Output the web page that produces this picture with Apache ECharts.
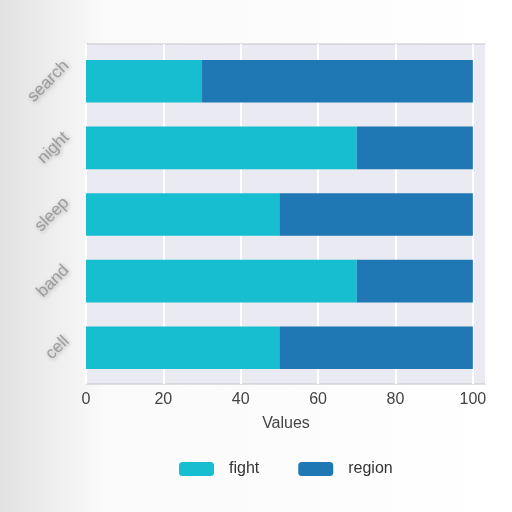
<!DOCTYPE html>
<html><head><meta charset="utf-8">
<script src="https://cdn.jsdelivr.net/npm/echarts@6/dist/echarts.min.js"></script>
<style>html,body{margin:0;padding:0;background:#fff}#c{width:512px;height:512px}</style>
</head><body><div id="c"></div>
<script>
const categories = ['cell', 'band', 'sleep', 'night', 'search'];
const fight = [50, 70, 50, 70, 30];
const region = [50, 30, 50, 30, 70];
const xTicks = [0, 20, 40, 60, 80, 100];

const font = 'Liberation Sans';
const labelSize = 17;
// measure label text to mimic right-aligned, vertically-centred rotated tick labels
const ctx = document.createElement('canvas').getContext('2d');
ctx.font = labelSize + 'px "' + font + '"';
function labelOffset(name) {
  const L = ctx.measureText(name).width;
  const h = labelSize * 0.75;
  const w = (L + h) / Math.SQRT2;
  const s = 15 + w / 2;            // horizontal screen shift to the left
  return [-s / Math.SQRT2, -s / Math.SQRT2]; // expressed in the label's rotated frame
}

const chart = echarts.init(document.getElementById('c'));
chart.setOption({
  animation: false,
  backgroundColor: {
    type: 'linear', x: 0, y: 0, x2: 1, y2: 0,
    colorStops: [{offset: 0, color: '#e2e2e2'}, {offset: 0.12, color: '#f0f0f0'}, {offset: 0.2, color: '#fafafa'}, {offset: 1, color: '#ffffff'}]
  },
  grid: [
    {left: 86, right: 26, top: 44, bottom: 128, show: true, backgroundColor: '#EAEAF2', borderColor: '#c4c4c4', borderWidth: 1},
    {left: 86, right: 26, top: 48, bottom: 131}
  ],
  xAxis: [{
    gridIndex: 0, type: 'value', min: 0, max: 103.4, interval: 20,
    name: 'Values', nameLocation: 'middle', nameGap: 32,
    nameTextStyle: {fontFamily: font, fontSize: 16, color: '#444'},
    axisLine: {show: false}, axisTick: {show: false},
    axisLabel: {fontFamily: font, fontSize: 16, color: '#444', margin: 8, showMaxLabel: false,
      formatter: v => xTicks.includes(v) ? String(v) : ''},
    splitLine: {show: true, lineStyle: {color: '#ffffff', width: 2}}
  }, {
    gridIndex: 1, type: 'value', min: 0, max: 103.4, interval: 20,
    axisLine: {show: false}, axisTick: {show: false}, axisLabel: {show: false}, splitLine: {show: false}
  }],
  yAxis: [{
    gridIndex: 0, type: 'value', min: 0, max: 1, show: false
  }, {
    gridIndex: 1, type: 'category', data: categories,
    axisLine: {show: false}, axisTick: {show: false}, axisLabel: {show: false},
    splitLine: {show: false}
  }],
  legend: {
    bottom: 30, left: 174, itemWidth: 35, itemHeight: 14, itemGap: 39,
    textStyle: {fontFamily: font, fontSize: 16, color: '#333', padding: [0, 0, 0, 10]},
    data: ['fight', 'region']
  },
  series: [
    {name: 'fight', type: 'bar', stack: 's', xAxisIndex: 1, yAxisIndex: 1, data: fight, barWidth: '64%', itemStyle: {color: '#17becf'}},
    {name: 'region', type: 'bar', stack: 's', xAxisIndex: 1, yAxisIndex: 1, data: region, barWidth: '64%', itemStyle: {color: '#1f77b4'}},
    {
      name: 'ticklabels', type: 'scatter', xAxisIndex: 1, yAxisIndex: 1, symbolSize: 0, clip: false, silent: true,
      data: categories.map(c => ({
        value: [0, c],
        label: {offset: labelOffset(c)}
      })),
      label: {
        show: true, formatter: p => p.value[1], rotate: 45, position: 'inside', align: 'center', verticalAlign: 'middle',
        fontFamily: font, fontSize: labelSize, color: '#8c8c8c',
        textShadowColor: 'rgba(0,0,0,0.35)', textShadowBlur: 4, textShadowOffsetX: 1, textShadowOffsetY: 1
      }
    }
  ]
});
</script></body></html>
